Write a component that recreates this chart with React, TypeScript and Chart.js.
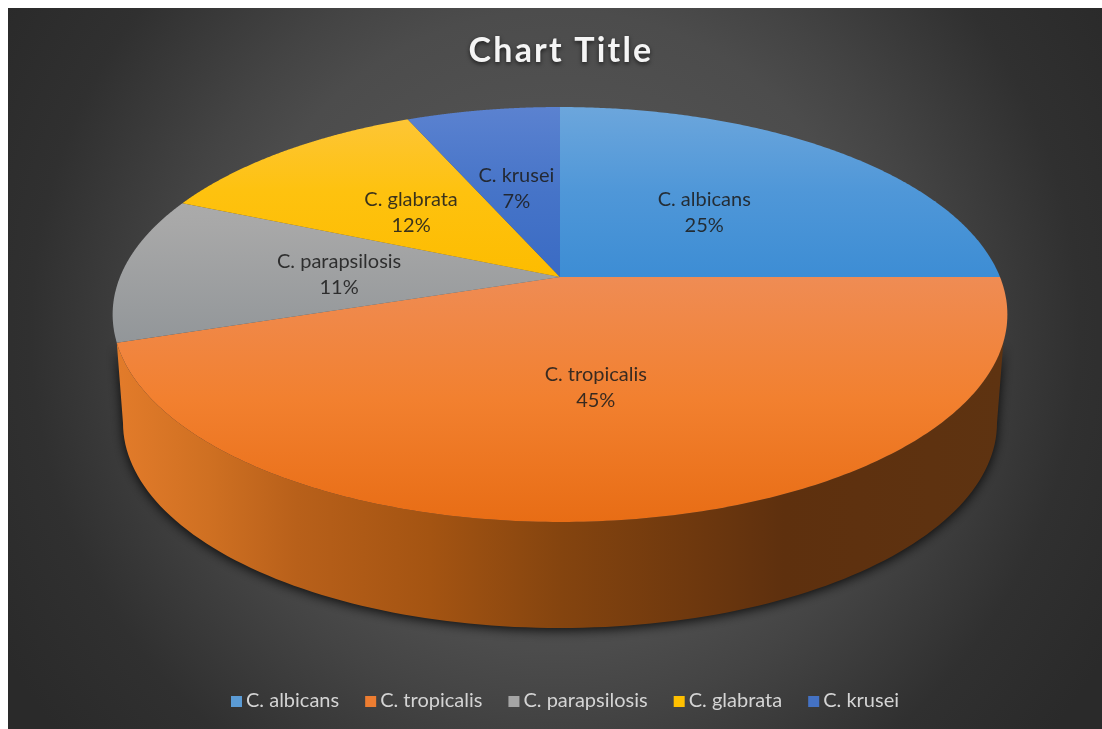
import React, { useEffect, useRef } from "react";
import { Chart, registerables } from "chart.js";

Chart.register(...registerables);

const categories = ["C. albicans", "C. tropicalis", "C. parapsilosis", "C. glabrata", "C. krusei"];
const shares = [25, 45, 11.45, 11.95, 6.6];
const legendColors = ["#5b9bd5", "#ed7d31", "#a5a5a5", "#ffc000", "#4472c4"];
const faceLight = ["#6ca6dc", "#ef8c54", "#b6b6b6", "#fdc63c", "#5b82d0"];
const faceMid = ["#4f97d8", "#f2802f", "#a8a8a8", "#fec20f", "#4674c8"];
const faceDark = ["#3d8dd4", "#e86d15", "#929699", "#fdbc00", "#3a6bc4"];

// Perspective model of the pie's top face
const CX = 560, CY = 277, SX = 440, SY = 200.7, PERSP = -0.1807;
// Bottom rim of the pie's wall
const BOT_CY = 423, BOT_RX = 437, BOT_RY = 205;
const WALL_MIN_Y = 342;

const project = (f: number, angle: number) => {
  const u = f * Math.cos(angle), v = f * Math.sin(angle);
  const d = 1 + PERSP * v;
  return { x: CX + (SX * u) / d, y: CY + (SY * v) / d };
};

const pie3d = {
  id: "pie3d",
  beforeDraw(chart: any) {
    const { ctx, width, height } = chart;
    ctx.save();
    ctx.fillStyle = "#ffffff";
    ctx.fillRect(0, 0, width, height);
    const g = ctx.createRadialGradient(555, 330, 0, 555, 330, 640);
    g.addColorStop(0, "#5a5a5a");
    g.addColorStop(0.5, "#4c4c4c");
    g.addColorStop(0.6, "#444444");
    g.addColorStop(0.82, "#303030");
    g.addColorStop(1, "#2a2a2a");
    ctx.fillStyle = g;
    ctx.fillRect(8, 8, width - 8, height - 8);
    ctx.restore();
    ctx.letterSpacing = "2.2px";
    ctx.shadowColor = "rgba(0,0,0,0.6)";
    ctx.shadowBlur = 4;
    ctx.shadowOffsetY = 2;
  },
  beforeDatasetsDraw(chart: any) {
    const ctx = chart.ctx;
    ctx.letterSpacing = "0px";
    ctx.shadowColor = "transparent";
    ctx.shadowBlur = 0;
    ctx.shadowOffsetY = 0;
  },
  beforeDatasetDraw(chart: any) {
    const ctx = chart.ctx;
    const arcs = chart.getDatasetMeta(0).data;
    // wall
    arcs.forEach((arc: any) => {
      const top: { x: number; y: number }[] = [];
      for (let i = 0; i <= 200; i++) {
        const a = arc.startAngle + ((arc.endAngle - arc.startAngle) * i) / 200;
        const p = project(1, a);
        if (p.y >= WALL_MIN_Y) top.push(p);
      }
      if (top.length < 3) return;
      ctx.save();
      ctx.beginPath();
      top.forEach((p, i) => (i ? ctx.lineTo(p.x, p.y) : ctx.moveTo(p.x, p.y)));
      for (let i = 0; i <= 120; i++) {
        const phi = Math.PI - (Math.PI * i) / 120;
        ctx.lineTo(CX + BOT_RX * Math.cos(phi), BOT_CY + BOT_RY * Math.sin(phi));
      }
      ctx.closePath();
      const g = ctx.createLinearGradient(120, 0, 1005, 0);
      g.addColorStop(0, "#e27b2a");
      g.addColorStop(0.1, "#cf7022");
      g.addColorStop(0.2, "#b8601a");
      g.addColorStop(0.35, "#a45412");
      g.addColorStop(0.5, "#84440f");
      g.addColorStop(0.65, "#6e380e");
      g.addColorStop(0.75, "#5e300e");
      g.addColorStop(1, "#5e3311");
      ctx.shadowColor = "rgba(0,0,0,0.85)";
      ctx.shadowBlur = 12;
      ctx.shadowOffsetY = 2;
      ctx.fillStyle = g;
      ctx.fill();
      ctx.restore();
    });
    // faces
    arcs.forEach((arc: any, i: number) => {
      ctx.save();
      ctx.beginPath();
      ctx.moveTo(CX, CY);
      for (let k = 0; k <= 200; k++) {
        const a = arc.startAngle + ((arc.endAngle - arc.startAngle) * k) / 200;
        const p = project(1, a);
        ctx.lineTo(p.x, p.y);
      }
      ctx.closePath();
      const g = ctx.createLinearGradient(0, i === 1 ? 277 : 107, 0, i === 1 ? 522 : i === 2 ? 343 : 277);
      g.addColorStop(0, faceLight[i]);
      g.addColorStop(0.5, faceMid[i]);
      g.addColorStop(1, faceDark[i]);
      ctx.fillStyle = g;
      ctx.fill();
      ctx.restore();
    });
    return false; // the pie is painted above, from the arc elements' own angles
  },
  afterDraw(chart: any) {
    const ctx = chart.ctx;
    const arcs = chart.getDatasetMeta(0).data;
    const values = chart.data.datasets[0].data as number[];
    const total = values.reduce((s, v) => s + v, 0);
    ctx.save();
    // data labels
    ctx.font = '20px Lato';
    ctx.textAlign = "center";
    ctx.textBaseline = "middle";
    ctx.fillStyle = "rgba(30,30,30,0.88)";
    arcs.forEach((arc: any, i: number) => {
      const p = project(0.5, (arc.startAngle + arc.endAngle) / 2);
      ctx.fillText(chart.data.labels[i], p.x - 2, p.y - 11);
      ctx.fillText(`${Math.round((values[i] / total) * 100)}%`, p.x - 2, p.y + 15);
    });
    // legend
    ctx.font = '20px Lato';
    ctx.textAlign = "left";
    const box = 11, gap = 4, spacing = 26;
    const w = chart.data.labels.map((t: string) => ctx.measureText(t).width);
    const full = w.reduce((s: number, v: number) => s + v + box + gap, 0) + spacing * (w.length - 1);
    let x = 565 - full / 2;
    chart.data.labels.forEach((t: string, i: number) => {
      ctx.fillStyle = legendColors[i];
      ctx.fillRect(x, 696, box, box);
      ctx.fillStyle = "#d4d4d4";
      ctx.fillText(t, x + box + gap, 701);
      x += box + gap + w[i] + spacing;
    });
    ctx.restore();
  },
};

export default function App() {
  const ref = useRef<HTMLCanvasElement>(null);
  useEffect(() => {
    const chart = new Chart(ref.current!, {
      type: "pie",
      data: {
        labels: categories,
        datasets: [{ data: shares, backgroundColor: legendColors, borderWidth: 0 }],
      },
      options: {
        responsive: false,
        animation: false,
        layout: { padding: { top: 20, left: 120, right: 100, bottom: 30 } },
        plugins: {
          legend: { display: false },
          tooltip: { enabled: false },
          title: {
            display: true,
            text: "Chart Title",
            color: "#f5f5f5",
            font: { family: "Lato", size: 34, weight: "bold" },
            padding: { top: 11, bottom: 10 },
          },
        },
      },
      plugins: [pie3d],
    } as any);
    return () => chart.destroy();
  }, []);
  return (
    <div style={{ position: "absolute", left: 0, top: 0, width: 1102, height: 729, overflow: "hidden" }}>
      <canvas ref={ref} width={1102} height={729} style={{ display: "block", filter: "blur(0.5px)" }} />
    </div>
  );
}
